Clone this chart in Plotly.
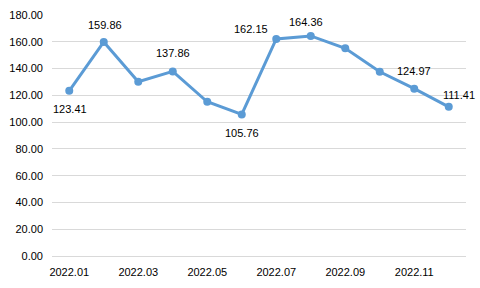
import plotly.graph_objects as go

months = ["2022.01", "2022.02", "2022.03", "2022.04", "2022.05", "2022.06",
          "2022.07", "2022.08", "2022.09", "2022.10", "2022.11", "2022.12"]
values = [123.41, 159.86, 130.2, 137.86, 115.2, 105.76,
          162.15, 164.36, 155.1, 137.6, 124.97, 111.41]
# data labels: point index with label offsets (px)
label_idx = [0, 1, 3, 5, 6, 7, 10, 11]
label_xshift = [1, 1, 0, 0, -25, -5, 0, 10]
label_yshift = [-18, 17, 18, -19, 10, 14, 18, 12]
tick_labels = months[::2]

FONT = "Liberation Sans"
BLUE = "#5B9BD5"

fig = go.Figure()
fig.add_trace(go.Scatter(
    x=months, y=values, mode="lines+markers",
    line=dict(color=BLUE, width=3),
    marker=dict(color=BLUE, size=8),
    hoverinfo="skip", showlegend=False,
))

for i, xs, ys in zip(label_idx, label_xshift, label_yshift):
    fig.add_annotation(
        x=i, y=values[i], text=f"{values[i]:.2f}",
        showarrow=False, xshift=xs, yshift=ys,
        font=dict(family=FONT, size=11, color="#000000"),
    )

fig.update_layout(
    width=480, height=288,
    margin=dict(l=52, r=14, t=15, b=32),
    paper_bgcolor="white", plot_bgcolor="white",
    font=dict(family=FONT, size=11, color="#000000"),
    xaxis=dict(
        type="category", range=[-0.5, 11.5],
        tickvals=tick_labels, ticktext=tick_labels,
        showgrid=False, showline=False, zeroline=False,
        ticks="", ticklen=0, ticklabelstandoff=8, automargin=False,
    ),
    yaxis=dict(
        range=[0, 180], dtick=20, tickformat=".2f",
        showgrid=True, gridcolor="#D9D9D9", gridwidth=1,
        zeroline=True, zerolinecolor="#D9D9D9", zerolinewidth=1,
        showline=False, ticks="", ticklen=0, ticklabelstandoff=8,
        automargin=False,
    ),
)

fig.write_html("out.html")
